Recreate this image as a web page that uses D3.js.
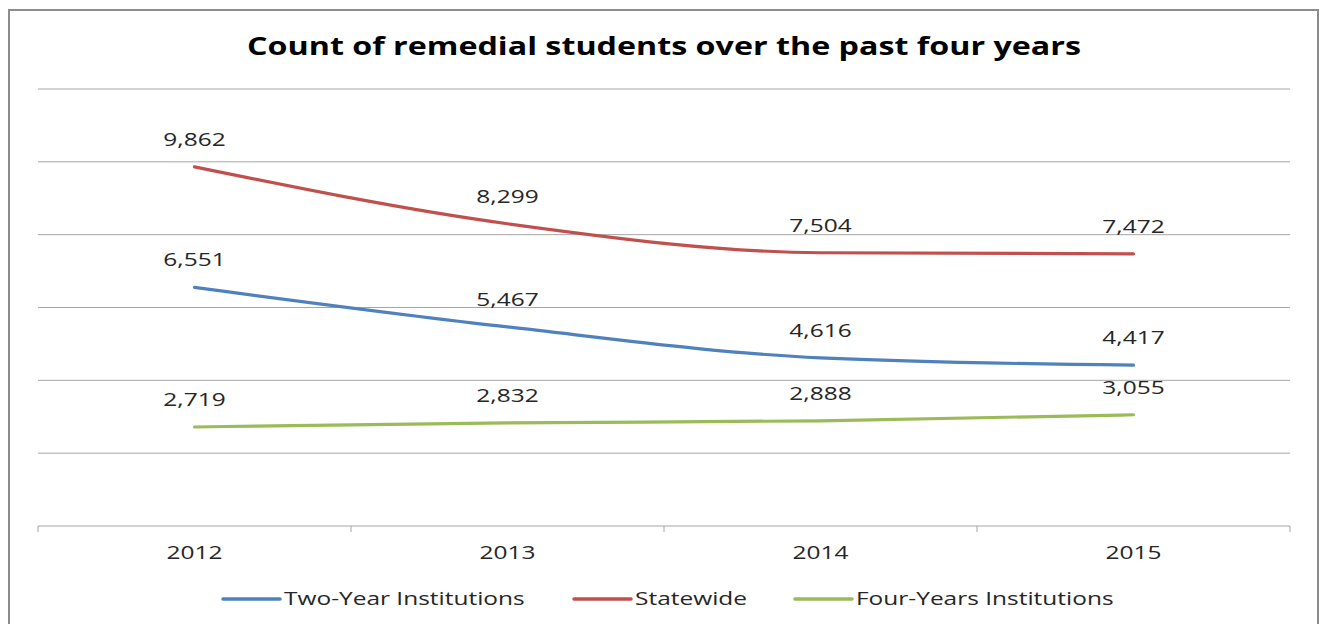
<!DOCTYPE html>
<meta charset="utf-8">
<head>
<style>
  body { margin: 0; background: #fff; }
  text { font-family: "Open Sans", "DejaVu Sans", sans-serif; fill: #262626; }
</style>
</head>
<body>
<script src="https://cdnjs.cloudflare.com/ajax/libs/d3/7.8.5/d3.min.js"></script>
<script>

const years = ["2012", "2013", "2014", "2015"];
const twoYear = [6551, 5467, 4616, 4417];
const statewide = [9862, 8299, 7504, 7472];
const fourYear = [2719, 2832, 2888, 3055];
const seriesNames = ["Two-Year Institutions", "Statewide", "Four-Years Institutions"];
const gridTicks = [0, 2000, 4000, 6000, 8000, 10000, 12000];

const colors = ["#4F81BD", "#C0504D", "#9BBB59"];
const series = [twoYear, statewide, fourYear].map((vals, i) => ({
  name: seriesNames[i], color: colors[i], values: vals
}));

const W = 1323, H = 624;
const plot = {left: 38, right: 1290, top: 89, bottom: 526};
const sx = 1.36; // the source picture is stretched sideways

const svg = d3.select("body").append("svg")
  .attr("width", W)
  .attr("height", H);

// text helper: wide glyphs like the reference
function label(parent, px, py, str, anchor, size) {
  parent.append("g")
    .attr("transform", `translate(${px},${py}) scale(${sx},1)`)
    .append("text")
      .attr("text-anchor", anchor)
      .style("font-size", size + "px")
      .text(str);
}

// outer frame
svg.append("rect")
  .attr("x", 9).attr("y", 10)
  .attr("width", 1309).attr("height", 630)
  .attr("fill", "none")
  .attr("stroke", "#8c8c8c")
  .attr("stroke-width", 2);

svg.append("text")
  .attr("x", 247).attr("y", 55)
  .attr("textLength", 834)
  .attr("lengthAdjust", "spacingAndGlyphs")
  .style("font-size", "25px")
  .style("font-weight", "bold")
  .style("fill", "#000")
  .text("Count of remedial students over the past four years");

const x = d3.scaleBand().domain(years).range([plot.left, plot.right]);
const y = d3.scaleLinear().domain([0, 12000]).range([plot.bottom, plot.top]);

// gridlines
svg.append("g")
  .selectAll("line")
  .data(gridTicks.slice(1))
  .join("line")
    .attr("x1", plot.left).attr("x2", plot.right)
    .attr("y1", d => y(d)).attr("y2", d => y(d))
    .attr("stroke", "#a6a6a6")
    .attr("stroke-width", 1);

// x axis
const xAxis = svg.append("g")
  .attr("transform", `translate(0,${plot.bottom})`);
xAxis.append("line")
  .attr("x1", plot.left).attr("x2", plot.right)
  .attr("stroke", "#a6a6a6");
const bounds = years.map(d => x(d)).concat([plot.right]);
xAxis.selectAll("line.tick")
  .data(bounds)
  .join("line")
    .attr("class", "tick")
    .attr("x1", d => d).attr("x2", d => d)
    .attr("y1", 0).attr("y2", 6)
    .attr("stroke", "#a6a6a6");
years.forEach(d => label(xAxis, x(d) + x.bandwidth() / 2, 33, d, "middle", 18));

const cx = i => x(years[i]) + x.bandwidth() / 2;
const line = d3.line()
  .x((d, i) => cx(i))
  .y(d => y(d))
  .curve(d3.curveMonotoneX);

const g = svg.append("g");
series.forEach(s => {
  g.append("path")
    .attr("d", line(s.values))
    .attr("fill", "none")
    .attr("stroke", s.color)
    .attr("stroke-width", 3.2)
    .attr("stroke-linecap", "round");
  s.values.forEach((d, i) => label(g, cx(i), y(d) - 21, d3.format(",")(d), "middle", 18));
});

// legend
const legendX = [223, 574, 795];
const legend = svg.append("g");
series.forEach((s, i) => {
  legend.append("line")
    .attr("x1", legendX[i]).attr("x2", legendX[i] + 57)
    .attr("y1", 599).attr("y2", 599)
    .attr("stroke", s.color)
    .attr("stroke-width", 3.5)
    .attr("stroke-linecap", "round");
  label(legend, legendX[i] + 61, 605, s.name, "start", 18);
});

</script>
</body>
